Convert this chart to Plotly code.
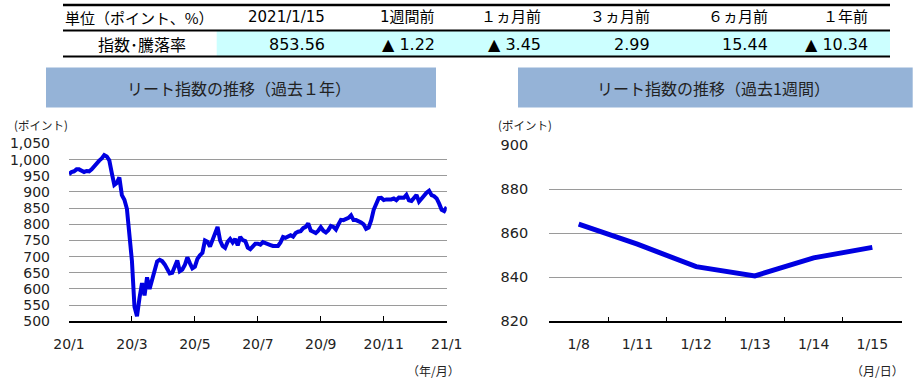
import plotly.graph_objects as go

W, H = 919, 383

# ---------------- data ----------------
table_headers = ["単位（ポイント、%）", "2021/1/15", "1週間前", "１ヵ月前", "３ヵ月前", "６ヵ月前", "１年前"]
table_row_label = "指数･騰落率"
table_values = ["853.56", "▲ 1.22", "▲ 3.45", "2.99", "15.44", "▲ 10.34"]

year_values = [
    955, 962, 964, 970, 970, 965, 962, 965, 964, 970,
    980, 988, 997, 1004, 1014, 1010, 998, 958, 922, 928,
    945, 890, 876, 848, 766, 686, 545, 516, 572, 618,
    580, 636, 600, 628, 660, 685, 690, 686, 676, 660,
    648, 650, 672, 688, 655, 660, 674, 698, 680, 664,
    669, 693, 704, 712, 750, 746, 731, 750, 776, 792,
    750, 733, 727, 746, 755, 744, 755, 735, 761, 751,
    748, 728, 723, 733, 740, 740, 737, 745, 743, 739,
    736, 733, 732, 733, 744, 761, 758, 762, 766, 762,
    773, 777, 779, 788, 792, 803, 781, 777, 773, 780,
    791, 780, 775, 782, 795, 792, 784, 800, 814, 813,
    817, 820, 828, 813, 813, 810, 806, 800, 786, 790,
    812, 845, 862, 881, 882, 875, 877, 876, 877, 880,
    875, 883, 884, 882, 891, 874, 872, 882, 891, 870,
    880, 888, 898, 904, 890, 887, 880, 864, 845, 841,
    853.56,
]
year_ticktext = ["20/1", "20/3", "20/5", "20/7", "20/9", "20/11", "21/1"]

week_dates = ["1/8", "1/11", "1/12", "1/13", "1/14", "1/15"]
week_values = [864.1, 855.0, 844.8, 840.6, 848.8, 853.56]

# ---------------- helpers ----------------
def fx(x):
    return x / W

def fy(y):
    return 1 - y / H

NUM_FONT = "DejaVu Sans, Noto Sans CJK JP, sans-serif"
JP_FONT = "Noto Sans CJK JP, sans-serif"
LINE_COLOR = "rgb(0,0,225)"
GRID_COLOR = "#9a9a9a"
TITLE_FILL = "#95B3D7"
CYAN_FILL = "#CCFFFF"

n = len(year_values)
year_x = list(range(n))
year_tickvals = [i * (n - 1) / (len(year_ticktext) - 1) for i in range(len(year_ticktext))]

fig = go.Figure()
fig.add_trace(go.Scatter(x=year_x, y=year_values, mode="lines",
                         line=dict(color=LINE_COLOR, width=4),
                         xaxis="x", yaxis="y", hoverinfo="skip"))
fig.add_trace(go.Scatter(x=week_dates, y=week_values, mode="lines",
                         line=dict(color=LINE_COLOR, width=5),
                         xaxis="x2", yaxis="y2", hoverinfo="skip"))

fig.update_layout(
    width=W, height=H,
    margin=dict(l=0, r=0, t=0, b=0, pad=0),
    paper_bgcolor="white", plot_bgcolor="white",
    showlegend=False,
    xaxis=dict(domain=[fx(69), fx(446.7)], range=[0, n - 1], anchor="y", automargin=False,
               tickmode="array", tickvals=year_tickvals, ticktext=year_ticktext,
               showgrid=False, zeroline=False, showline=True, linecolor="black", linewidth=1.5,
               ticks="inside", ticklen=6, tickwidth=1.2, tickcolor="black",
               ticklabelstandoff=9,
               tickfont=dict(family=NUM_FONT, size=14, color="#222")),
    yaxis=dict(domain=[fy(321.3), fy(143.5)], range=[500, 1050], anchor="x", automargin=False,
               dtick=50, tickformat=",", showgrid=True, gridcolor=GRID_COLOR, gridwidth=1,
               zeroline=False, showline=False, ticks="",
               ticklabelstandoff=18,
               tickfont=dict(family=NUM_FONT, size=14, color="#222")),
    xaxis2=dict(domain=[fx(549.3), fx(901.7)], range=[-0.5, len(week_dates) - 0.5], anchor="y2",
                automargin=False,
                type="category", tickson="boundaries",
                showgrid=False, zeroline=False, showline=True, linecolor="black", linewidth=1.5,
                ticks="inside", ticklen=5, tickwidth=1.2, tickcolor="black",
                ticklabelstandoff=9,
                tickfont=dict(family=NUM_FONT, size=14, color="#222")),
    yaxis2=dict(domain=[fy(321.3), fy(145)], range=[820, 900], anchor="x2", automargin=False,
                dtick=20, showgrid=True, gridcolor=GRID_COLOR, gridwidth=1,
                zeroline=False, showline=False, ticks="",
                ticklabelstandoff=20,
                tickfont=dict(family=NUM_FONT, size=14.5, color="#222")),
)

shapes = []
annotations = []

# ---------------- table ----------------
shapes.append(dict(type="rect", xref="paper", yref="paper",
                   x0=fx(216.7), x1=fx(890), y0=fy(56), y1=fy(31),
                   fillcolor=CYAN_FILL, line=dict(width=0), layer="below"))
for yy, lw in [(5, 2.5), (30.5, 2), (56.5, 2)]:
    shapes.append(dict(type="line", xref="paper", yref="paper",
                       x0=fx(63), x1=fx(890), y0=fy(yy), y1=fy(yy),
                       line=dict(color="black", width=lw)))

col_right = [326.7, 436.7, 543.3, 651.7, 770, 870]
annotations.append(dict(text=table_headers[0], x=fx(63), y=fy(17.5), xref="paper", yref="paper",
                        xanchor="left", yanchor="middle", showarrow=False,
                        font=dict(family=JP_FONT, size=15, color="black")))
for i, h in enumerate(table_headers[1:]):
    annotations.append(dict(text=h, x=fx(col_right[i]), y=fy(17.5), xref="paper", yref="paper",
                            xanchor="right", yanchor="middle", showarrow=False,
                            font=dict(family=NUM_FONT, size=15, color="black")))
annotations.append(dict(text=table_row_label, x=fx(141.7), y=fy(44), xref="paper", yref="paper",
                        xanchor="center", yanchor="middle", showarrow=False,
                        font=dict(family=JP_FONT, size=16, color="black")))
for i, v in enumerate(table_values):
    annotations.append(dict(text=v, x=fx(col_right[i]), y=fy(44), xref="paper", yref="paper",
                            xanchor="right", yanchor="middle", showarrow=False,
                            font=dict(family=NUM_FONT, size=16, color="black")))

# ---------------- chart titles ----------------
for (x0, x1, title) in [(46, 436, "リート指数の推移（過去１年）"),
                        (518, 912.7, "リート指数の推移（過去1週間）")]:
    shapes.append(dict(type="rect", xref="paper", yref="paper",
                       x0=fx(x0), x1=fx(x1), y0=fy(107.5), y1=fy(67.5),
                       fillcolor=TITLE_FILL, line=dict(width=0), layer="below"))
    annotations.append(dict(text=title, x=fx((x0 + x1) / 2 - 2), y=fy(88), xref="paper", yref="paper",
                            xanchor="center", yanchor="middle", showarrow=False,
                            font=dict(family=JP_FONT, size=16, color="#222")))

# ---------------- axis unit labels ----------------
for (x, y, t, anchor, size) in [(12, 125, "(ポイント)", "left", 11.5),
                                (496, 125, "(ポイント)", "left", 11.5),
                                (462, 370, "（年/月）", "right", 12),
                                (906, 370, "（月/日）", "right", 12)]:
    annotations.append(dict(text=t, x=fx(x), y=fy(y), xref="paper", yref="paper",
                            xanchor=anchor, yanchor="middle", showarrow=False,
                            font=dict(family=JP_FONT, size=size, color="#222")))

fig.update_layout(shapes=shapes, annotations=annotations)

fig.write_html("out.html", config={"displayModeBar": False},
               post_script="document.body.style.margin='0';")
